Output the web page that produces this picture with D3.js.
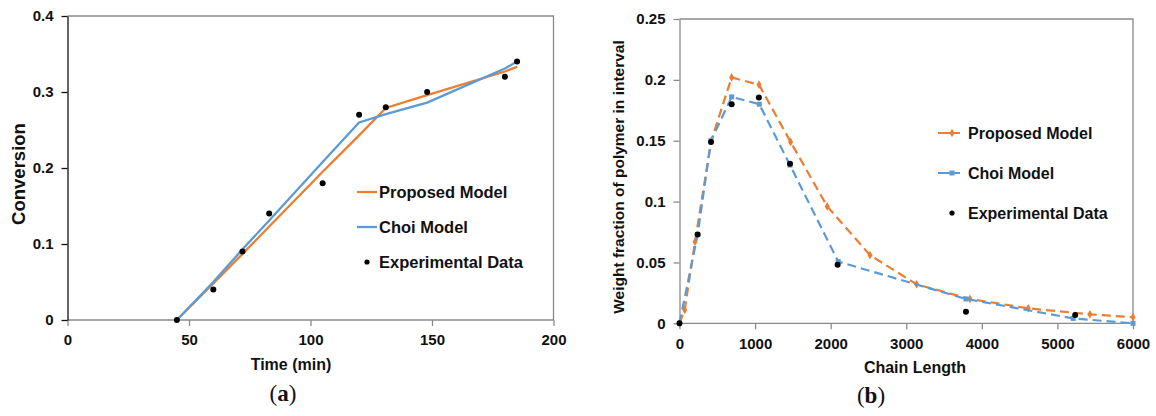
<!DOCTYPE html>
<html>
<head>
<meta charset="utf-8">
<script src="https://cdn.jsdelivr.net/npm/d3@7"></script>
<style>
  body { margin: 0; background: #fff; }
  svg { display: block; font-family: "Liberation Sans", Arial, sans-serif; }
  .tick text { font-weight: bold; font-size: 15px; fill: #111; }
</style>
</head>
<body>
<div id="chart"></div>
<script>
// ---- panel (a): conversion vs time ----
var timeExp = [45, 60, 72, 83, 105, 120, 131, 148, 180, 185];
var convExp = [0, 0.04, 0.09, 0.14, 0.18, 0.27, 0.28, 0.30, 0.32, 0.34];
var timeModel = [45, 60, 72, 83, 105, 120, 131, 148, 180, 185];
var convProposed = [0, 0.048, 0.087, 0.123, 0.195, 0.243, 0.279, 0.296, 0.327, 0.333];
var convChoi = [0, 0.05, 0.093, 0.131, 0.208, 0.26, 0.271, 0.286, 0.331, 0.34];
var timeTicks = [0, 50, 100, 150, 200];
var convTicks = [0, 0.1, 0.2, 0.3, 0.4];

// ---- panel (b): weight fraction vs chain length ----
var chainExp = [0, 240, 417, 690, 1050, 1462, 2092, 3790, 5235];
var wfExp = [0, 0.073, 0.149, 0.18, 0.1855, 0.131, 0.048, 0.0095, 0.0068];
var chainProposed = [0, 69, 205, 420, 690, 1052, 1470, 1955, 2520, 3137, 3843, 4614, 5430, 6000];
var wfProposed = [0, 0.011, 0.067, 0.15, 0.202, 0.196, 0.149, 0.096, 0.056, 0.032, 0.020, 0.0123, 0.0074, 0.005];
var chainChoi = [0, 240, 417, 690, 1056, 1462, 2100, 3790, 5209, 6000];
var wfChoi = [0, 0.073, 0.15, 0.186, 0.18, 0.13, 0.0507, 0.020, 0.004, 0];
var chainTicks = [0, 1000, 2000, 3000, 4000, 5000, 6000];
var wfTicks = [0, 0.05, 0.1, 0.15, 0.2, 0.25];

var orange = "#ed7d31", blue = "#5b9bd5";

var svg = d3.select("#chart").append("svg")
  .attr("width", 1156)
  .attr("height", 416);

function zip(xs, ys) { return xs.map(function(x, i) { return [x, ys[i]]; }); }

function fmt(d) { return d === 0 ? "0" : String(d); }

function drawPanel(o) {
  var x = d3.scaleLinear().domain(o.xDomain).range(o.xRange);
  var y = d3.scaleLinear().domain(o.yDomain).range(o.yRange);
  var g = svg.append("g");

  // frame top / right
  g.append("path")
    .attr("d", "M" + x.range()[0] + "," + y.range()[1] + "H" + x.range()[1] + "V" + y.range()[0])
    .attr("fill", "none").attr("stroke", "#8a8a8a").attr("stroke-width", 1.3);

  var xa = g.append("g")
    .attr("transform", "translate(0," + y.range()[0] + ")")
    .call(d3.axisBottom(x).tickValues(o.xTicks).tickFormat(fmt).tickSize(6).tickSizeOuter(0).tickPadding(o.xPad));
  xa.selectAll("line, path").attr("stroke", "#8a8a8a").attr("stroke-width", 1.3);
  xa.select(".domain").attr("d", "M" + x.range()[0] + ",0H" + x.range()[1]);

  var ya = g.append("g")
    .attr("transform", "translate(" + x.range()[0] + ",0)")
    .call(d3.axisLeft(y).tickValues(o.yTicks).tickFormat(fmt).tickSize(6).tickSizeOuter(0).tickPadding(8));
  ya.selectAll("line, path").attr("stroke", o.yAxisColor).attr("stroke-width", 1.3);
  ya.selectAll(".tick text").attr("font-family", null);
  xa.selectAll(".tick text").attr("font-family", null);

  // axis titles
  g.append("text")
    .attr("x", o.xTitleX).attr("y", o.xTitleY)
    .attr("text-anchor", "middle")
    .attr("font-weight", "bold").attr("font-size", 16).attr("fill", "#111")
    .text(o.xTitle);
  g.append("text")
    .attr("transform", "translate(" + o.yTitleX + "," + o.yTitleY + ") rotate(-90)")
    .attr("text-anchor", "middle")
    .attr("font-weight", "bold").attr("font-size", o.yTitleSize).attr("fill", "#111")
    .text(o.yTitle);

  // panel letter
  var lt = g.append("text")
    .attr("x", o.letterX).attr("y", o.letterY)
    .attr("text-anchor", "middle")
    .attr("font-family", "'Liberation Serif', 'DejaVu Serif', serif")
    .attr("font-size", 23).attr("fill", "#111");
  lt.append("tspan").text("(");
  lt.append("tspan").attr("font-weight", "bold").text(o.letter);
  lt.append("tspan").text(")");

  var line = d3.line().x(function(d) { return x(d[0]); }).y(function(d) { return y(d[1]); });

  o.series.forEach(function(s) {
    g.append("path")
      .attr("d", line(s.data))
      .attr("fill", "none")
      .attr("stroke", s.color)
      .attr("stroke-width", s.width)
      .attr("stroke-dasharray", s.dash || null);
    if (s.marker === "square") {
      g.selectAll(null).data(s.data).enter().append("rect")
        .attr("x", function(d) { return x(d[0]) - 2.5; })
        .attr("y", function(d) { return y(d[1]) - 2.5; })
        .attr("width", 5).attr("height", 5)
        .attr("fill", s.color);
    } else if (s.marker === "diamond") {
      g.selectAll(null).data(s.data).enter().append("path")
        .attr("d", d3.symbol().type(d3.symbolDiamond).size(22))
        .attr("transform", function(d) { return "translate(" + x(d[0]) + "," + y(d[1]) + ")"; })
        .attr("fill", s.color);
    }
  });

  g.selectAll(null).data(o.points).enter().append("circle")
    .attr("cx", function(d) { return x(d[0]); })
    .attr("cy", function(d) { return y(d[1]); })
    .attr("r", 3)
    .attr("fill", "#000");

  // legend
  var lg = g.append("g");
  o.legend.forEach(function(item, i) {
    var ly = o.legendY + i * o.legendStep;
    if (item.type === "dot") {
      lg.append("circle").attr("cx", o.legendX + o.legendLine / 2).attr("cy", ly).attr("r", 2.6).attr("fill", "#000");
    } else {
      lg.append("line")
        .attr("x1", o.legendX).attr("x2", o.legendX + o.legendLine)
        .attr("y1", ly).attr("y2", ly)
        .attr("stroke", item.color).attr("stroke-width", item.width)
        .attr("stroke-dasharray", item.dash || null);
      if (item.marker === "square") {
        lg.append("rect").attr("x", o.legendX + o.legendLine / 2 - 2.5).attr("y", ly - 2.5)
          .attr("width", 5).attr("height", 5).attr("fill", item.color);
      } else if (item.marker === "diamond") {
        lg.append("path").attr("d", d3.symbol().type(d3.symbolDiamond).size(22))
          .attr("transform", "translate(" + (o.legendX + o.legendLine / 2) + "," + ly + ")")
          .attr("fill", item.color);
      }
    }
    lg.append("text")
      .attr("x", o.legendX + o.legendLine + 2).attr("y", ly + 5.5)
      .attr("font-weight", "bold").attr("font-size", o.legendSize).attr("fill", "#111")
      .text(item.label);
  });
}

drawPanel({
  xDomain: [0, 200], xRange: [67.5, 553.5],
  yDomain: [0, 0.4], yRange: [320, 16],
  xTicks: timeTicks, yTicks: convTicks, xPad: 8,
  yAxisColor: "#111",
  xTitle: "Time (min)", xTitleX: 291, xTitleY: 370,
  yTitle: "Conversion", yTitleX: 25, yTitleY: 174, yTitleSize: 18.5,
  letter: "a", letterX: 283, letterY: 401,
  series: [
    { data: zip(timeModel, convProposed), color: orange, width: 2.3 },
    { data: zip(timeModel, convChoi), color: blue, width: 2.3 }
  ],
  points: zip(timeExp, convExp),
  legendX: 357, legendY: 192, legendStep: 35, legendLine: 20, legendSize: 16.5,
  legend: [
    { label: "Proposed Model", color: orange, width: 2.3 },
    { label: "Choi Model", color: blue, width: 2.3 },
    { label: "Experimental Data", type: "dot" }
  ]
});

drawPanel({
  xDomain: [0, 6000], xRange: [679.5, 1133],
  yDomain: [0, 0.25], yRange: [323.3, 19],
  xTicks: chainTicks, yTicks: wfTicks, xPad: 9,
  yAxisColor: "#8a8a8a",
  xTitle: "Chain Length", xTitleX: 915, xTitleY: 373,
  yTitle: "Weight fraction of polymer in interval", yTitleX: 624, yTitleY: 177, yTitleSize: 15.5,
  letter: "b", letterX: 871, letterY: 403,
  series: [
    { data: zip(chainProposed, wfProposed), color: orange, width: 2.2, dash: "9,5", marker: "diamond" },
    { data: zip(chainChoi, wfChoi), color: blue, width: 2.2, dash: "9,5", marker: "square" }
  ],
  points: zip(chainExp, wfExp),
  legendX: 938, legendY: 133, legendStep: 40, legendLine: 28, legendSize: 16,
  legend: [
    { label: "Proposed Model", color: orange, width: 2.2, dash: "12,4,6", marker: "diamond" },
    { label: "Choi Model", color: blue, width: 2.2, dash: "12,4,6", marker: "square" },
    { label: "Experimental Data", type: "dot" }
  ]
});
</script>
</body>
</html>
